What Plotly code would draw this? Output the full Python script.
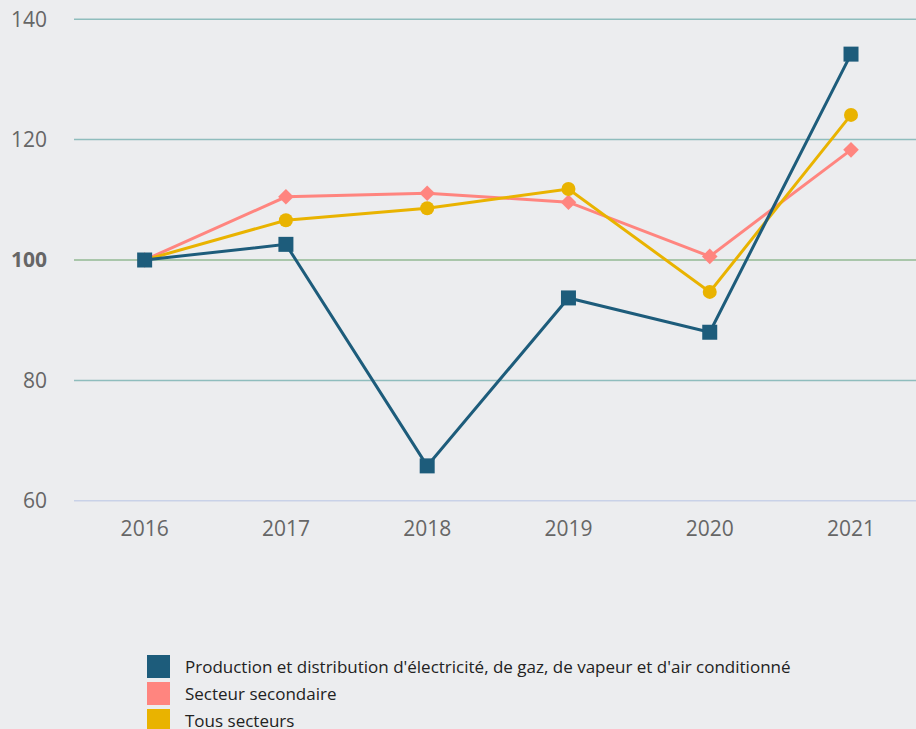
import plotly.graph_objects as go

years = ["2016", "2017", "2018", "2019", "2020", "2021"]
production = [100, 102.6, 65.8, 93.7, 88.0, 134.2]
secondaire = [100, 110.5, 111.1, 109.6, 100.6, 118.3]
tous = [100, 106.6, 108.6, 111.8, 94.7, 124.1]

names = [
    "Production et distribution d'électricité, de gaz, de vapeur et d'air conditionné",
    "Secteur secondaire",
    "Tous secteurs",
]
colors = ["#1d5c7b", "#ff857f", "#e9b300"]

y_ticks = [60, 80, 100, 120, 140]
y_ticktext = ["60", "80", "<b>100</b>", "120", "140"]
grid_colors = {60: "#c9d2e8", 80: "#8fbdbd", 100: "#93b893", 120: "#8fbdbd", 140: "#8fbdbd"}

W, H = 916, 729
ML, MR, MT, MB = 74, 0, 18, 227
PW, PH = W - ML - MR, H - MT - MB

fig = go.Figure()
fig.add_trace(go.Scatter(x=years, y=secondaire, mode="lines+markers", name=names[1],
                         line=dict(color=colors[1], width=3),
                         marker=dict(symbol="diamond", size=12, color=colors[1]), showlegend=False))
fig.add_trace(go.Scatter(x=years, y=tous, mode="lines+markers", name=names[2],
                         line=dict(color=colors[2], width=3),
                         marker=dict(symbol="circle", size=14, color=colors[2]), showlegend=False))
fig.add_trace(go.Scatter(x=years, y=production, mode="lines+markers", name=names[0],
                         line=dict(color=colors[0], width=3),
                         marker=dict(symbol="square", size=15, color=colors[0]), showlegend=False))

shapes = []
for v in y_ticks:
    shapes.append(dict(type="line", xref="paper", x0=0, x1=1, yref="y", y0=v, y1=v,
                       line=dict(color=grid_colors[v], width=1.5), layer="below"))

def px_x(p):
    return (p - ML) / PW

def px_y(p):
    return (H - MB - p) / PH

annotations = []
row_tops = [655, 682, 709]
for i, n in enumerate(names):
    top = row_tops[i]
    shapes.append(dict(type="rect", xref="paper", yref="paper",
                       x0=px_x(147), x1=px_x(170), y0=px_y(top + 23), y1=px_y(top),
                       fillcolor=colors[i], line=dict(width=0)))
    annotations.append(dict(xref="paper", yref="paper", x=px_x(183), y=px_y(top + 11.5),
                            text=n, showarrow=False, xanchor="left", yanchor="middle",
                            font=dict(family="Open Sans", size=17, color="#222222")))

fig.update_layout(
    width=W, height=H,
    margin=dict(l=ML, r=MR, t=MT, b=MB),
    paper_bgcolor="#ecedef", plot_bgcolor="#ecedef",
    font=dict(family="Open Sans", color="#666666"),
    shapes=shapes, annotations=annotations,
    showlegend=False,
    xaxis=dict(type="category", range=[-0.5, 5.46], showgrid=False, zeroline=False,
               showline=False, tickfont=dict(size=21, color="#666666"), ticklabelstandoff=12),
    yaxis=dict(range=[59.8, 140.2], tickvals=y_ticks, ticktext=y_ticktext, showgrid=False,
               zeroline=False, showline=False, tickfont=dict(size=21, color="#666666"),
               ticklabelstandoff=26),
)

fig.write_html(
    "out.html",
    config={"displayModeBar": False},
    post_script="document.body.style.margin='0';document.body.style.overflow='hidden';",
)
